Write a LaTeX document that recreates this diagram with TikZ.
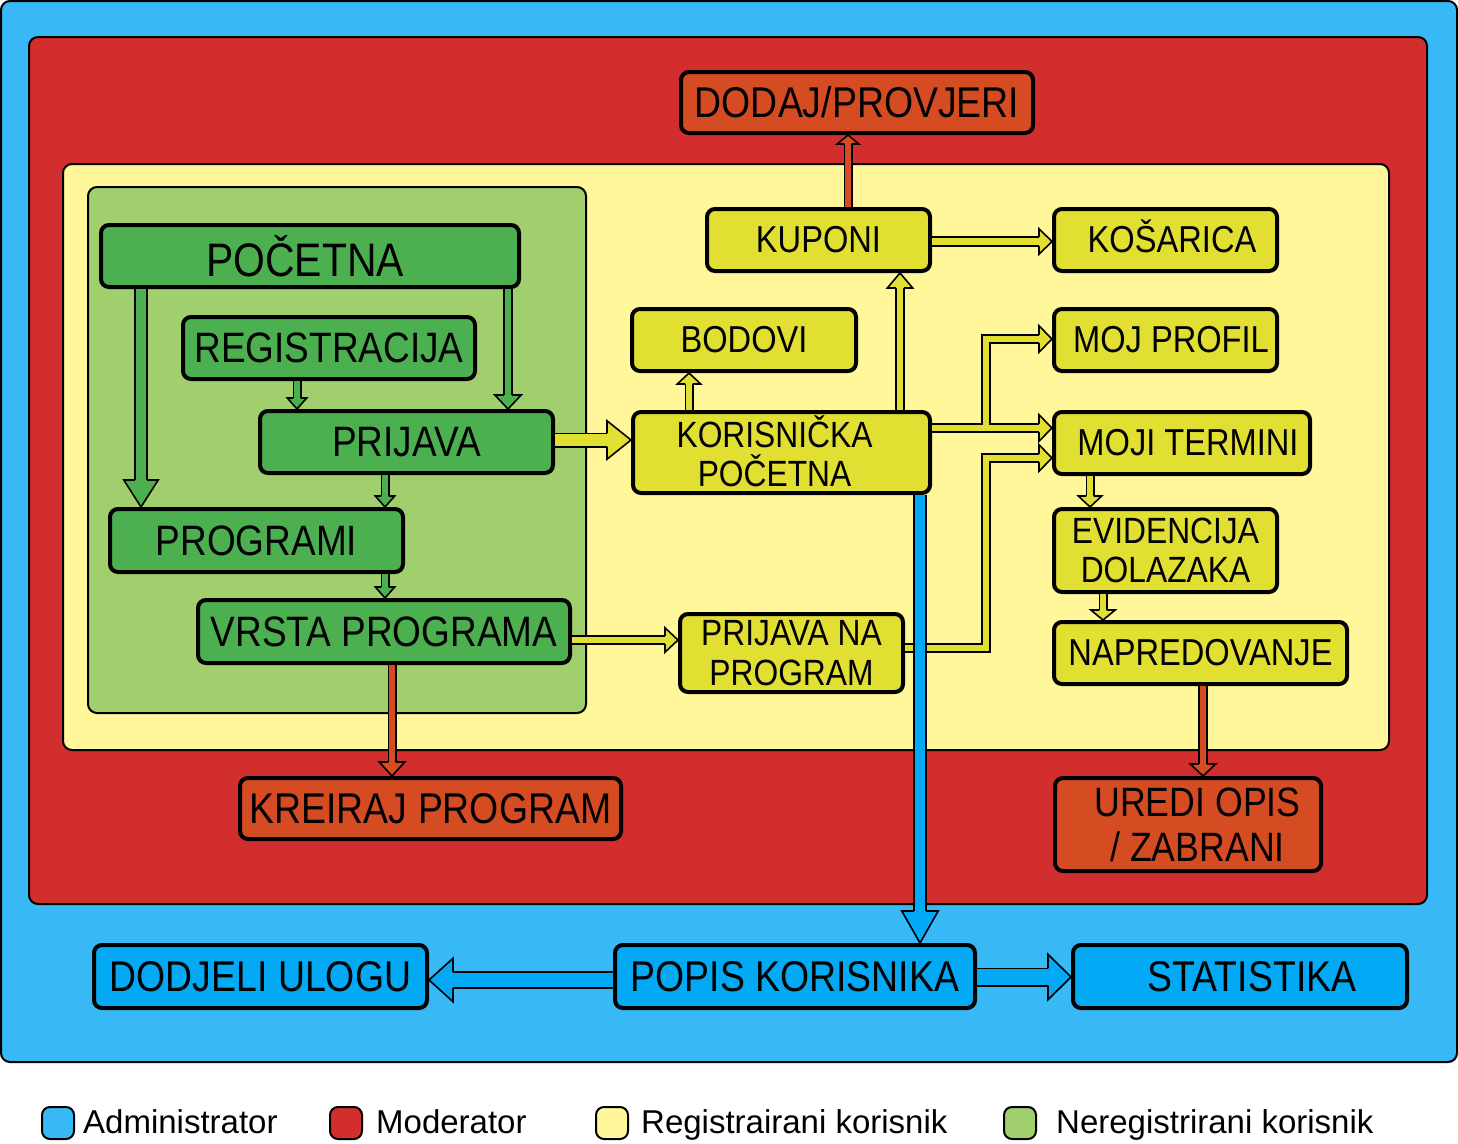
\documentclass[tikz,border=0pt]{standalone}
\usepackage{fontspec}
\setmainfont{Liberation Sans}
\newfontfamily\cnd[FakeStretch=0.87]{Liberation Sans}
\usetikzlibrary{calc}

\definecolor{bgblue}{RGB}{56,185,245}
\definecolor{bgred}{RGB}{211,46,46}
\definecolor{bgyel}{RGB}{255,247,153}
\definecolor{bggrn}{RGB}{162,207,110}
\definecolor{bxblue}{RGB}{3,169,244}
\definecolor{bxorg}{RGB}{214,76,34}
\definecolor{bxyel}{RGB}{226,223,51}
\definecolor{bxgrn}{RGB}{76,175,80}

\newcommand\fs[2]{\fontsize{#1}{#2}\selectfont}
\newcommand\cp[1]{\smash{#1}\vphantom{H}}
\def\alw{1.6}

\tikzset{
  panel/.style={draw=black, line width=2pt, rounded corners=9pt},
  box/.style={draw=black, line width=4pt, rounded corners=8pt, inner sep=0pt},
  tA/.style={font=\cnd\fs{47}{50}},
  tB/.style={font=\cnd\fs{42.5}{45}},
  tC/.style={font=\cnd\fs{43}{45}},
  tD/.style={font=\cnd\fs{37.5}{40}},
  tM/.style={font=\cnd\fs{36.5}{39.5}, align=center},
  tU/.style={font=\cnd\fs{41}{45}, align=center},
  legtext/.style={font=\fs{33}{36}, anchor=base west, inner sep=0pt},
  legbox/.style={draw=black, line width=2pt, rounded corners=8pt},
}

% box node from corner coordinates (pixels)
\newcommand\bx[7]{%
  \pgfmathsetmacro\bcx{(#2+#4)/2}%
  \pgfmathsetmacro\bcy{(#3+#5)/2}%
  \pgfmathsetmacro\bw{#4-#2-4}%
  \pgfmathsetmacro\bh{#5-#3-4}%
  \node[box,#6,minimum width=\bw pt,minimum height=\bh pt] (#1) at (\bcx,\bcy) {#7};}

% block arrow: color, shaft width, head width, head length, path prefix, previous point, tip
\newcommand\barrow[7]{%
  \path #6 coordinate (bp) #7 coordinate (bt);
  \path ($(bt)!#4pt!(bp)$) coordinate (bc);
  \path ($(bc)!1pt!(bt)$) coordinate (bd);
  \pgfmathsetlengthmacro\bsi{#2-2*\alw}%
  \pgfmathsetlengthmacro\bsh{#2/2-\alw/2}%
  \pgfmathsetlengthmacro\bhh{#3/2-\alw/2}%
  \draw[line width=\alw pt, double=#1, double distance=\bsi] #5 (bp) -- (bd);
  \filldraw[line width=\alw pt, fill=#1] ($(bc)!\bsh!90:(bt)$) -- ($(bc)!\bhh!90:(bt)$) -- (bt) -- ($(bc)!\bhh!-90:(bt)$) -- ($(bc)!\bsh!-90:(bt)$);
}

\begin{document}
\begin{tikzpicture}[x=1pt,y=-1pt]
\useasboundingbox (0,0) rectangle (1458,1143);

% background regions
\draw[panel, fill=bgblue] (1,1) rectangle (1457,1062);
\draw[panel, fill=bgred] (29,37) rectangle (1427,904);
\draw[panel, fill=bgyel] (63,164) rectangle (1389,750);
\draw[panel, fill=bggrn] (88,187) rectangle (586,713);

% nodes
\bx{dodaj}{679}{70}{1035}{135}{fill=bxorg,tC}{\cp{DODAJ/PROVJERI}}
\bx{kuponi}{705}{207}{932}{273}{fill=bxyel,tD}{\cp{KUPONI}}
\bx{kosarica}{1052}{207}{1279}{273}{fill=bxyel,tD}{\kern13pt\cp{KOŠARICA}}
\bx{bodovi}{630}{307}{858}{373}{fill=bxyel,tD}{\cp{BODOVI}}
\bx{mojprofil}{1052}{307}{1279}{373}{fill=bxyel,tD}{\kern11pt\cp{MOJ PROFIL}}
\bx{kp}{631}{410}{932}{495}{fill=bxyel,tM}{\cp{\raisebox{-2pt}{KORISNIČKA}}\kern14pt\\\cp{\raisebox{-2pt}{POČETNA}}\kern14pt}
\bx{mojitermini}{1052}{410}{1312}{476}{fill=bxyel,tD}{\kern12pt\cp{MOJI TERMINI}}
\bx{evid}{1052}{507}{1279}{594}{fill=bxyel,tM}{\cp{EVIDENCIJA}\\\cp{DOLAZAKA}}
\bx{napred}{1052}{620}{1349}{686}{fill=bxyel,tD}{\cp{NAPREDOVANJE}}
\bx{pnp}{678}{612}{905}{694}{fill=bxyel,tM}{\cp{PRIJAVA NA}\\\cp{PROGRAM}}
\bx{uredi}{1053}{776}{1323}{873}{fill=bxorg,tU}{\kern19pt\cp{UREDI OPIS}\\\kern19pt\cp{/ ZABRANI}}
\bx{kreiraj}{238}{776}{623}{841}{fill=bxorg,tC}{\cp{KREIRAJ PROGRAM}}
\bx{pocetna}{99}{223}{521}{289}{fill=bxgrn,tA}{\cp{\raisebox{-4pt}{POČETNA}}\kern10pt}
\bx{reg}{181}{315}{477}{381}{fill=bxgrn,tB}{\cp{REGISTRACIJA}}
\bx{prijava}{258}{409}{555}{475}{fill=bxgrn,tB}{\cp{PRIJAVA}}
\bx{programi}{108}{507}{405}{574}{fill=bxgrn,tB}{\cp{PROGRAMI}}
\bx{vrsta}{196}{598}{572}{665}{fill=bxgrn,tB}{\cp{VRSTA PROGRAMA}}
\bx{dodjeli}{92}{943}{429}{1010}{fill=bxblue,tC}{\cp{DODJELI ULOGU}}
\bx{popis}{613}{943}{977}{1010}{fill=bxblue,tC}{\cp{POPIS KORISNIKA}}
\bx{stat}{1071}{943}{1409}{1010}{fill=bxblue,tC}{\kern24pt\cp{STATISTIKA}}

% green arrows
\barrow{bxgrn}{14}{36}{27}{}{(pocetna.south -| 141,0)}{(programi.north -| 141,0)}
\barrow{bxgrn}{10}{28}{14}{}{(pocetna.south -| 508,0)}{(prijava.north -| 508,0)}
\barrow{bxgrn}{9}{21}{11}{}{(reg.south -| 297,0)}{(prijava.north -| 297,0)}
\barrow{bxgrn}{9}{21}{11}{}{(prijava.south -| 385,0)}{(programi.north -| 385,0)}
\barrow{bxgrn}{9}{21}{11}{}{(programi.south -| 385,0)}{(vrsta.north -| 385,0)}

% yellow arrows
\barrow{bxyel}{15}{40}{24}{}{(prijava.east |- 0,440)}{(kp.west |- 0,440)}
\barrow{bxyel}{10}{26}{13}{}{(vrsta.east |- 0,640)}{(pnp.west |- 0,640)}
\barrow{bxyel}{9}{25}{11}{}{(kp.north -| 689,0)}{(bodovi.south -| 689,0)}
\barrow{bxyel}{10}{27}{15}{}{(kp.north -| 900,0)}{(kuponi.south -| 900,0)}
\barrow{bxyel}{11}{27}{13}{}{(kuponi.east |- 0,241.5)}{(kosarica.west |- 0,241.5)}
\barrow{bxyel}{10}{28}{13}{}{(kp.east |- 0,428)}{(mojitermini.west |- 0,428)}
\coordinate (br0) at (986,424.6);
\coordinate (br1) at (986,339);
\barrow{bxyel}{10}{28}{13}{(br0) --}{(br1)}{(mojprofil.west |- br1)}
\coordinate (pc1) at (986,648);
\coordinate (pc2) at (986,458);
\barrow{bxyel}{10}{28}{13}{(pnp.east |- pc1) -- (pc1) --}{(pc2)}{(mojitermini.west |- pc2)}
\barrow{bxyel}{9}{25}{11}{}{(mojitermini.south -| 1090,0)}{(evid.north -| 1090,0)}
\barrow{bxyel}{9}{26}{10}{}{(evid.south -| 1103,0)}{(napred.north -| 1103,0)}

% orange arrows
\barrow{bxorg}{9}{27}{14}{}{(vrsta.south -| 392,0)}{(kreiraj.north -| 392,0)}
\barrow{bxorg}{9}{23}{9}{}{(kuponi.north -| 848,0)}{(dodaj.south -| 848,0)}
\barrow{bxorg}{10}{27}{12}{}{(napred.south -| 1203,0)}{(uredi.north -| 1203,0)}

% blue arrows
\barrow{bxblue}{14}{38}{32}{}{(kp.south -| 920,0)}{(popis.north -| 920,0)}
\barrow{bxblue}{18}{45}{24}{}{(popis.west |- 0,980)}{(dodjeli.east |- 0,980)}
\barrow{bxblue}{19}{47}{23}{}{(popis.east |- 0,977)}{(stat.west |- 0,977)}

% legend
\draw[legbox, fill=bgblue] (42,1107) rectangle (74,1139);
\node[legtext] (lga) at (83,1133) {Administrator};
\draw[legbox, fill=bgred] (330,1107) rectangle (362,1139);
\node[legtext] (lgm) at (376,1133) {Moderator};
\draw[legbox, fill=bgyel] (596,1107) rectangle (628,1139);
\node[legtext] (lgr) at (641,1133) {Registrairani korisnik};
\draw[legbox, fill=bggrn] (1004,1107) rectangle (1036,1139);
\node[legtext] (lgn) at (1056,1133) {Neregistrirani korisnik};
\end{tikzpicture}
\end{document}
